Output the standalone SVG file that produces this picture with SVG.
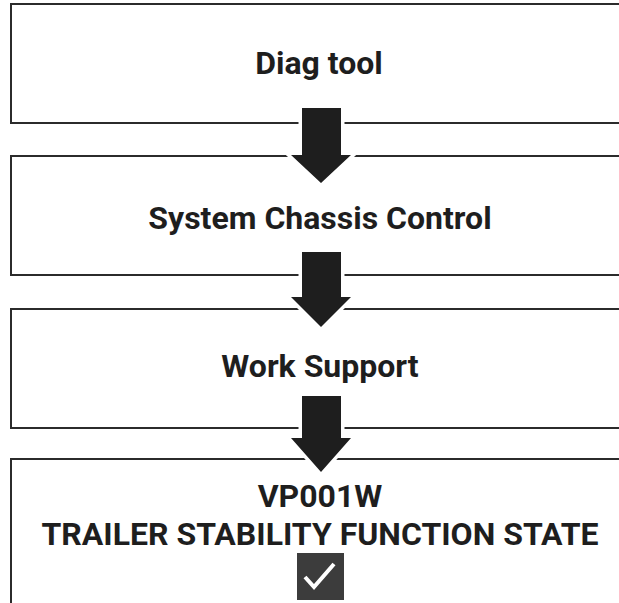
<svg xmlns="http://www.w3.org/2000/svg" width="619" height="603" viewBox="0 0 619 603">
<style>
.box{fill:#fff;stroke:#2b2b2b;stroke-width:2}
.lbl{font-family:Roboto,"Liberation Sans",sans-serif;font-weight:bold;font-size:32px;fill:#1e1e1e;text-anchor:middle}
.arr{fill:#1e1e1e;stroke:#fff;stroke-width:7;paint-order:stroke;stroke-linejoin:miter}
</style>
<rect width="619" height="603" fill="#fff"/>
<g id="n1"><rect class="box" x="11" y="4" width="700" height="119"/><text class="lbl" x="319" y="74">Diag tool</text></g>
<g id="n2"><rect class="box" x="11" y="156" width="700" height="119"/><text class="lbl" x="320" y="229">System Chassis Control</text></g>
<g id="n3"><rect class="box" x="11" y="309" width="700" height="119"/><text class="lbl" x="320" y="377">Work Support</text></g>
<g id="n4"><rect class="box" x="11" y="459" width="700" height="200"/>
<text class="lbl" x="320" y="507">VP001W</text>
<text class="lbl" x="320" y="545">TRAILER STABILITY FUNCTION STATE</text>
<rect x="297" y="553" width="47" height="47" fill="#3c3c3c"/>
<polyline points="305,577 314,587 334,564" fill="none" stroke="#fff" stroke-width="4"/>
</g>
<g id="connectors">
<polygon class="arr" points="302,108 341,108 341,155 351,155 321,183 291,155 302,155"/>
<polygon class="arr" points="302,252 341,252 341,297 351,297 321,327 291,297 302,297"/>
<polygon class="arr" points="302,396 341,396 341,438 351,438 321,472 291,438 302,438"/>
</g>
</svg>
